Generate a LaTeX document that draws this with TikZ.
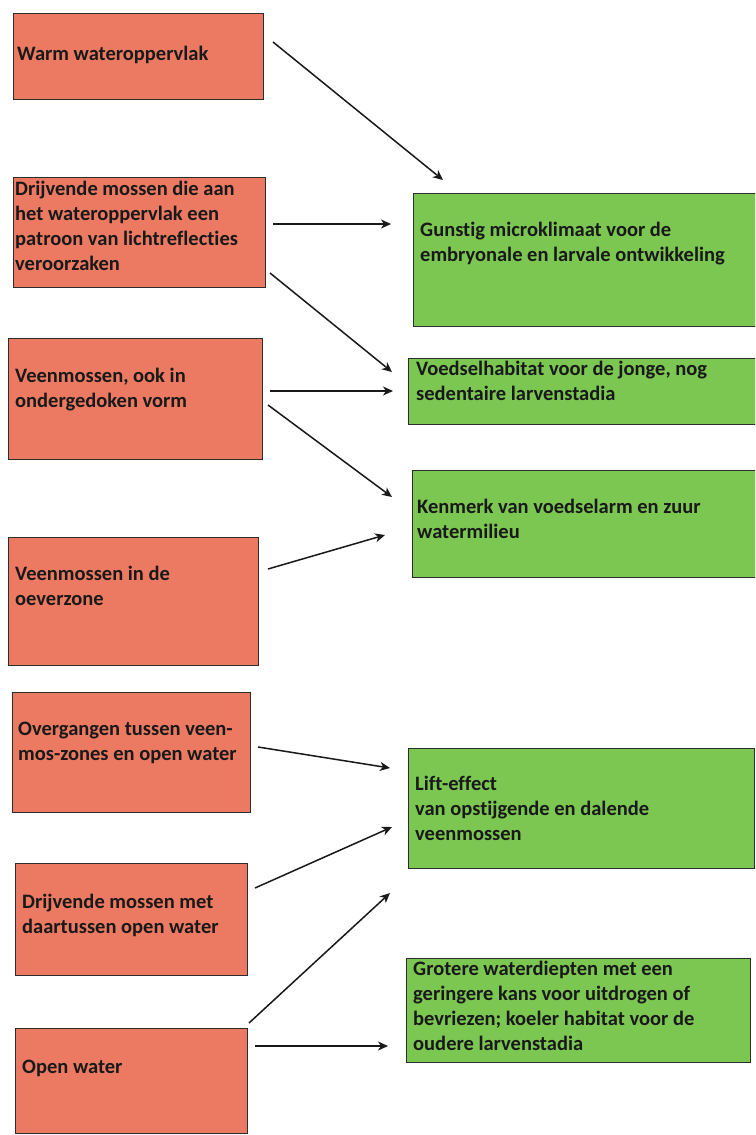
\documentclass[tikz,border=0pt]{standalone}
\usepackage{fontspec}
\setmainfont{Carlito}[Ligatures=NoCommon]
\usetikzlibrary{arrows.meta}
\definecolor{boxred}{RGB}{236,122,98}
\definecolor{boxgreen}{RGB}{124,198,82}
\definecolor{edge}{RGB}{45,45,45}
\tikzset{
  box/.style={draw=edge, line width=1.2pt, anchor=north west, inner sep=0pt},
  redbox/.style={box, fill=boxred},
  greenbox/.style={box, fill=boxgreen},
  txt/.style={anchor=west, inner sep=0pt, align=left, text=black!90,
    font=\bfseries\fontsize{20.5}{25}\selectfont,
    execute at begin node=\strut, execute at end node=\strut},
  arr/.style={line width=1.5pt, draw=black!90, -{Stealth[length=10pt,width=9pt,inset=3pt]}}
}
\begin{document}
\begin{tikzpicture}[x=1pt,y=-1pt]
\clip (0,0) rectangle (755,1135);
\fill[white] (0,0) rectangle (755,1135);
% red boxes
\node[redbox, minimum width=250, minimum height=86] (b1) at (13,13) {};
\node[redbox, minimum width=252, minimum height=110] (b2) at (13,177) {};
\node[redbox, minimum width=254, minimum height=121] (b3) at (8,338) {};
\node[redbox, minimum width=250, minimum height=128] (b4) at (8,537) {};
\node[redbox, minimum width=238, minimum height=120] (b5) at (12,692) {};
\node[redbox, minimum width=232, minimum height=112] (b6) at (15,863) {};
\node[redbox, minimum width=232, minimum height=105] (b7) at (15,1028) {};
% green boxes
\node[greenbox, minimum width=350, minimum height=133] (g1) at (413,193) {};
\node[greenbox, minimum width=355, minimum height=66] (g2) at (408,358) {};
\node[greenbox, minimum width=350, minimum height=107] (g3) at (412,470) {};
\node[greenbox, minimum width=346, minimum height=120] (g4) at (408,748) {};
\node[greenbox, minimum width=344, minimum height=104] (g5) at (406,958) {};
% texts
\node[txt] (t1) at (17,55) {Warm wateroppervlak};
\node[txt] (t2) at (15,230) {Drijvende mossen die aan\\het wateroppervlak een\\patroon van lichtreflecties\\veroorzaken};
\node[txt] (t3) at (15,392) {Veenmossen, ook in\\ondergedoken vorm};
\node[txt] (t4) at (15,590) {Veenmossen in de\\oeverzone};
\node[txt] (t5) at (18,745) {Overgangen tussen veen-\\mos-zones en open water};
\node[txt] (t6) at (22,918) {Drijvende mossen met\\daartussen open water};
\node[txt] (t7) at (22,1068) {Open water};
\node[txt] (t8) at (420,246) {Gunstig microklimaat voor de\\embryonale en larvale ontwikkeling};
\node[txt] (t9) at (416,385) {Voedselhabitat voor de jonge, nog\\sedentaire larvenstadia};
\node[txt] (t10) at (417,523) {Kenmerk van voedselarm en zuur\\watermilieu};
\node[txt] (t11) at (415,812) {Lift-effect\\van opstijgende en dalende\\veenmossen};
\node[txt] (t12) at (413,1010) {Grotere waterdiepten met een\\geringere kans voor uitdrogen of\\bevriezen; koeler habitat voor de\\oudere larvenstadia};
% connector ends
\coordinate (s1) at (273,42);   \coordinate (e1) at (443,180);
\coordinate (s2) at (273,224);  \coordinate (e2) at (391,224);
\coordinate (s3) at (270,273);  \coordinate (e3) at (392,372);
\coordinate (s4) at (270,391);  \coordinate (e4) at (393,391);
\coordinate (s5) at (268,405);  \coordinate (e5) at (392,497);
\coordinate (s6) at (268,569);  \coordinate (e6) at (385,535);
\coordinate (s7) at (258,747);  \coordinate (e7) at (390,768);
\coordinate (s8) at (255,888);  \coordinate (e8) at (392,827);
\coordinate (s9) at (249,1023); \coordinate (e9) at (390,893);
\coordinate (s10) at (255,1046); \coordinate (e10) at (388,1046);
\foreach \i in {1,...,10} {\draw[arr] (s\i) -- (e\i);}
\end{tikzpicture}
\end{document}
